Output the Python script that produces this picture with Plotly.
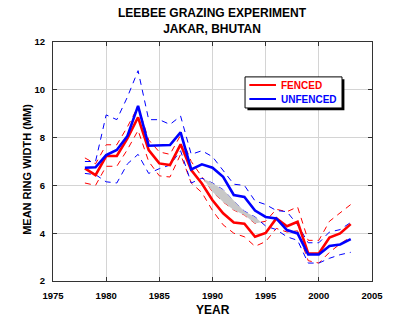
import plotly.graph_objects as go

years = list(range(1978, 2004))

fenced = [6.71, 6.43, 7.23, 7.23, 7.97, 8.85, 7.48, 6.92, 6.85, 7.72, 6.64, 6.08, 5.38, 4.83,
          4.45, 4.40, 3.85, 4.01, 4.62, 4.29, 4.48, 3.15, 3.15, 3.82, 3.99, 4.38]
fenced_hi = [7.15, 6.90, 7.70, 7.70, 8.45, 9.30, 7.90, 7.40, 7.30, 8.10, 7.00, 6.35, 5.73, 5.31,
             4.97, 4.76, 4.41, 4.50, 5.00, 4.90, 5.10, 3.70, 3.70, 4.50, 4.85, 5.20]
fenced_lo = [6.10, 6.00, 6.80, 6.80, 7.50, 8.30, 7.00, 6.40, 6.35, 7.30, 6.10, 5.70, 4.95, 4.35,
             4.00, 3.85, 3.45, 3.65, 4.20, 4.05, 4.10, 2.85, 2.75, 3.20, 3.55, 3.85]

unfenced = [6.74, 6.76, 7.27, 7.48, 8.07, 9.33, 7.66, 7.66, 7.69, 8.22, 6.67, 6.88, 6.74, 6.36,
            5.60, 5.52, 4.95, 4.68, 4.62, 4.13, 3.99, 3.11, 3.11, 3.47, 3.53, 3.75]
unfenced_hi = [7.00, 7.00, 8.95, 8.75, 9.70, 10.80, 8.75, 8.75, 8.55, 8.90, 7.30, 7.45, 7.20, 6.65,
               6.05, 6.00, 5.35, 5.20, 4.95, 4.90, 4.35, 3.60, 3.60, 4.05, 4.15, 4.45]
unfenced_lo = [6.50, 6.45, 6.15, 6.10, 6.90, 7.30, 6.50, 6.70, 6.85, 7.45, 6.10, 6.30, 6.10, 5.82,
               5.35, 4.92, 4.68, 4.30, 4.15, 3.85, 3.70, 2.75, 2.75, 2.95, 3.10, 3.20]

x_ticks = [1975, 1980, 1985, 1990, 1995, 2000, 2005]
y_ticks = [2, 4, 6, 8, 10, 12]
series_names = ["FENCED", "UNFENCED"]

RED = "#ff0000"
BLUE = "#0000ff"
FONT = "Liberation Sans, Arial, sans-serif"


# gray region: where the fenced upper bound lies below the unfenced lower bound
def gap_polygons(xs, top, bot):
    polys = []
    cx, ct, cb = [], [], []
    d = [t - b for t, b in zip(top, bot)]
    for i in range(len(xs)):
        if d[i] > 0:
            if not cx and i > 0 and d[i - 1] <= 0:
                f = d[i - 1] / (d[i - 1] - d[i])
                xc = xs[i - 1] + f * (xs[i] - xs[i - 1])
                yc = bot[i - 1] + f * (bot[i] - bot[i - 1])
                cx.append(xc); ct.append(yc); cb.append(yc)
            cx.append(xs[i]); ct.append(top[i]); cb.append(bot[i])
        elif cx:
            f = d[i - 1] / (d[i - 1] - d[i])
            xc = xs[i - 1] + f * (xs[i] - xs[i - 1])
            yc = bot[i - 1] + f * (bot[i] - bot[i - 1])
            cx.append(xc); ct.append(yc); cb.append(yc)
            polys.append((cx, ct, cb))
            cx, ct, cb = [], [], []
    if cx:
        polys.append((cx, ct, cb))
    return polys


fig = go.Figure()

for ys, col in [(fenced_hi, RED), (fenced_lo, RED), (unfenced_hi, BLUE), (unfenced_lo, BLUE)]:
    fig.add_trace(go.Scatter(x=years, y=ys, mode="lines",
                             line=dict(color=col, width=1, dash="6px,5px"),
                             showlegend=False, hoverinfo="skip"))

for px, pt, pb in gap_polygons(years, unfenced_lo, fenced_hi):
    fig.add_trace(go.Scatter(x=px + px[::-1], y=pt + pb[::-1], fill="toself",
                             fillcolor="#c8c8c8", line=dict(width=0), mode="lines",
                             showlegend=False, hoverinfo="skip"))

fig.add_trace(go.Scatter(x=years, y=fenced, mode="lines", line=dict(color=RED, width=2.6),
                         name=series_names[0], showlegend=False))
fig.add_trace(go.Scatter(x=years, y=unfenced, mode="lines", line=dict(color=BLUE, width=2.6),
                         name=series_names[1], showlegend=False))

axis_common = dict(showgrid=True, gridcolor="#d4d4d4", gridwidth=1, showline=True,
                   linecolor="#333333", linewidth=1, mirror="ticks", ticks="inside",
                   ticklen=4, tickcolor="#333333", zeroline=False,
                   tickfont=dict(family=FONT, size=9.5, color="black", weight="bold"))

fig.update_xaxes(range=[1975, 2005], tickvals=x_ticks, ticktext=[str(v) for v in x_ticks],
                 ticklabelstandoff=6, **axis_common)
fig.update_yaxes(range=[2, 12], tickvals=y_ticks, ticktext=[str(v) for v in y_ticks],
                 ticklabelstandoff=5, **axis_common)

# manual legend (box with drop shadow, line samples, coloured bold labels)
LX0, LX1, LY0, LY1 = 0.602, 0.906, 0.724, 0.854
shapes = [
    dict(type="rect", xref="paper", yref="paper", x0=LX0 + 0.0075, x1=LX1 + 0.0075,
         y0=LY0 - 0.010, y1=LY1 - 0.010, fillcolor="black", line=dict(width=0), layer="above"),
    dict(type="rect", xref="paper", yref="paper", x0=LX0, x1=LX1, y0=LY0, y1=LY1,
         fillcolor="white", line=dict(color="black", width=1), layer="above"),
]
legend_rows = [(series_names[0], RED, 0.820), (series_names[1], BLUE, 0.7615)]
annotations = []
for name, col, yy in legend_rows:
    shapes.append(dict(type="line", xref="paper", yref="paper", x0=0.6155, x1=0.699,
                       y0=yy, y1=yy, line=dict(color=col, width=2), layer="above"))
    annotations.append(dict(text="<b>%s</b>" % name, x=0.7085, y=yy, xref="paper", yref="paper",
                            xanchor="left", yanchor="middle", showarrow=False,
                            font=dict(family=FONT, size=10, color=col)))

annotations += [
    dict(text="<b>LEEBEE GRAZING EXPERIMENT<br>JAKAR, BHUTAN</b>", x=0.5, y=1,
         xref="paper", yref="paper", xanchor="center", yanchor="middle", yshift=21,
         showarrow=False, font=dict(family=FONT, size=12, color="black")),
    dict(text="<b>YEAR</b>", x=0.5, y=0, xref="paper", yref="paper",
         xanchor="center", yanchor="middle", yshift=-29, showarrow=False,
         font=dict(family=FONT, size=12, color="black")),
    dict(text="<b>MEAN RING WIDTH (MM)</b>", x=0, y=0.465, xref="paper", yref="paper",
         xanchor="center", yanchor="middle", xshift=-26, textangle=-90, showarrow=False,
         font=dict(family=FONT, size=11, color="black")),
]

fig.update_layout(
    width=400, height=325,
    margin=dict(l=53, r=28, t=42, b=44),
    paper_bgcolor="white", plot_bgcolor="white",
    showlegend=False,
    annotations=annotations,
    shapes=shapes,
    font=dict(family=FONT),
)

fig.write_html("out.html")
